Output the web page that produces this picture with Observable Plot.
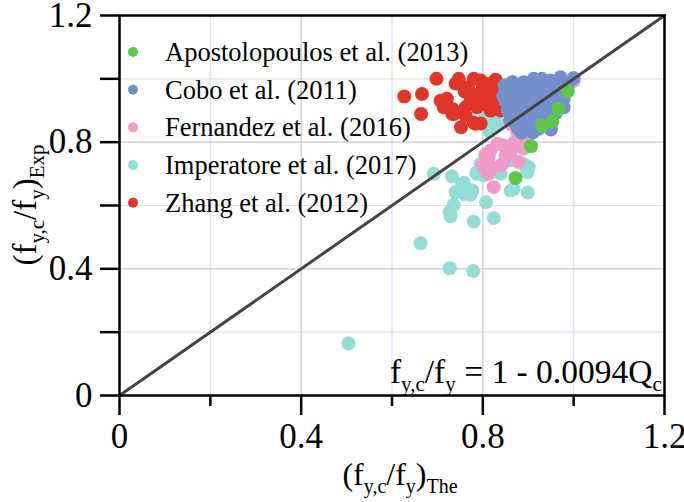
<!DOCTYPE html>
<html>
<head>
<meta charset="utf-8">
<script src="https://cdn.jsdelivr.net/npm/d3@7"></script>
<script src="https://cdn.jsdelivr.net/npm/@observablehq/plot@0.6"></script>
<style>
  html, body { margin: 0; padding: 0; background: #fff; }
  #chart svg { display: block; }
</style>
</head>
<body>
<div id="chart"></div>
<script>
// Series names and colours, in legend order
const seriesNames = [
  "Apostolopoulos et al. (2013)",
  "Cobo et al. (2011)",
  "Fernandez et al. (2016)",
  "Imperatore et al. (2017)",
  "Zhang et al. (2012)"
];
const seriesColors = ["#5ec648", "#7390cc", "#f09cc8", "#93ddd6", "#e2352a"];

// [theoretical, experimental] pairs of f_y,c / f_y
const apostolopoulos = [
  [0.872, 0.687], [0.906, 0.787], [0.987, 0.961], [0.953, 0.865], [0.966, 0.905], [0.930, 0.852]
];
const cobo = [
  [0.868, 0.974], [0.890, 0.989], [0.912, 1.000], [0.930, 1.000], [0.949, 0.995], [0.971, 1.005],
  [1.000, 1.003], [0.868, 0.931], [0.861, 0.895], [0.883, 0.868], [0.898, 0.847], [0.923, 0.842],
  [0.938, 0.858], [0.978, 0.910], [0.978, 0.937], [0.964, 0.963], [0.905, 0.952], [0.927, 0.921],
  [0.941, 0.900], [0.905, 0.900], [0.876, 0.847], [0.912, 0.868], [0.850, 0.960], [0.850, 0.930],
  [0.855, 0.900], [0.860, 0.870], [0.875, 0.950], [0.890, 0.960], [0.890, 0.930], [0.900, 0.980],
  [0.920, 0.970], [0.940, 0.980], [0.950, 0.960], [0.960, 0.940], [0.955, 0.920], [0.930, 0.950],
  [0.915, 0.940], [0.880, 0.910], [0.900, 0.880], [0.920, 0.890], [0.945, 0.875], [0.960, 0.890],
  [0.870, 0.890], [0.885, 0.830], [0.910, 0.830], [0.960, 0.990], [0.980, 0.970], [0.990, 0.990],
  [0.865, 0.990], [0.848, 0.980], [0.845, 0.945], [0.930, 0.975], [0.970, 0.975], [0.940, 0.930],
  [0.900, 0.910], [0.935, 0.900], [0.875, 0.865], [0.950, 0.840]
];
const fernandez = [
  [0.824, 0.658], [0.810, 0.705], [0.799, 0.726], [0.813, 0.752], [0.832, 0.795], [0.817, 0.774],
  [0.843, 0.731], [0.861, 0.768], [0.879, 0.737], [0.883, 0.821], [0.894, 0.805], [0.876, 0.858],
  [0.861, 0.858], [0.813, 0.700], [0.839, 0.726], [1.000, 0.993], [0.876, 0.831], [0.845, 0.790],
  [0.870, 0.800], [0.850, 0.755], [0.820, 0.720], [0.805, 0.760], [0.890, 0.780], [0.990, 0.985]
];
const imperatore = [
  [0.504, 0.164], [0.663, 0.481], [0.727, 0.402], [0.779, 0.393], [0.729, 0.566], [0.727, 0.580],
  [0.736, 0.602], [0.780, 0.549], [0.824, 0.560], [0.807, 0.610], [0.743, 0.641], [0.758, 0.636],
  [0.773, 0.634], [0.765, 0.652], [0.754, 0.664], [0.732, 0.692], [0.692, 0.700], [0.758, 0.672],
  [0.786, 0.700], [0.802, 0.695], [0.839, 0.700], [0.868, 0.653], [0.899, 0.641], [0.901, 0.721],
  [0.890, 0.731], [0.898, 0.705], [0.828, 0.858], [0.815, 0.834], [0.806, 0.878], [0.787, 0.705],
  [0.806, 0.742], [0.861, 0.647], [0.777, 0.647], [0.740, 0.642], [0.817, 0.863], [0.832, 0.863],
  [0.861, 0.742], [0.795, 0.732]
];
const zhang = [
  [0.627, 0.944], [0.666, 0.952], [0.664, 0.889], [0.698, 1.000], [0.747, 1.000], [0.780, 1.000],
  [0.767, 0.974], [0.740, 0.985], [0.707, 0.931], [0.721, 0.937], [0.733, 0.905], [0.714, 0.910],
  [0.733, 0.889], [0.762, 0.910], [0.762, 0.884], [0.752, 0.847], [0.780, 0.861], [0.787, 0.910],
  [0.795, 0.937], [0.802, 0.958], [0.817, 0.968], [0.824, 0.937], [0.828, 0.997], [0.795, 0.995],
  [0.773, 0.931], [0.839, 0.979], [0.817, 0.900], [0.810, 0.984], [0.828, 0.989], [0.839, 0.942],
  [0.817, 0.921], [0.839, 0.900], [0.802, 0.942], [0.795, 0.859], [0.784, 0.858], [0.736, 0.889],
  [0.810, 0.960], [0.830, 0.960], [0.800, 0.920], [0.780, 0.950], [0.760, 0.960], [0.800, 0.975]
];

// Axis ticks
const majorTicks = [0, 0.4, 0.8, 1.2];
const minorTicks = [0.2, 0.6, 1.0];
const tickLabel = d => d === 0 ? "0" : d.toFixed(1);

const FONT = "'Liberation Serif', 'Times New Roman', serif";
const dotR = 7;
const series = [imperatore, fernandez, zhang, cobo, apostolopoulos];
const seriesIdx = [3, 2, 4, 1, 0];

const chart = Plot.plot({
  width: 684,
  height: 502,
  marginLeft: 119,
  marginRight: 20,
  marginTop: 15,
  marginBottom: 107,
  style: { fontFamily: FONT, background: "#fff", color: "#000" },
  x: { domain: [0, 1.2] },
  y: { domain: [0, 1.2] },
  marks: [
    Plot.gridX(minorTicks, { stroke: "#dcdcf4", strokeOpacity: 1, strokeWidth: 1.2 }),
    Plot.gridY(minorTicks, { stroke: "#dcdcf4", strokeOpacity: 1, strokeWidth: 1.2 }),
    Plot.gridX([0.4, 0.8], { stroke: "#c8c8c8", strokeOpacity: 1, strokeWidth: 1.2 }),
    Plot.gridY([0.4, 0.8], { stroke: "#c8c8c8", strokeOpacity: 1, strokeWidth: 1.2 }),
    ...series.map((s, i) => Plot.dot(s, {
      x: d => d[0], y: d => d[1], r: dotR,
      fill: seriesColors[seriesIdx[i]], stroke: "none"
    })),
    Plot.line([[0, 0], [1.2, 1.2]], { stroke: "#444", strokeWidth: 3 }),
    Plot.frame({ stroke: "#000", strokeWidth: 2.5 }),
    Plot.axisX(majorTicks, {
      tickSize: 20, tickPadding: 8, fontSize: 35, tickFormat: tickLabel,
      label: null, strokeWidth: 2.5, stroke: "#000"
    }),
    Plot.axisX(minorTicks, {
      tickSize: 11, tickFormat: () => "", label: null, strokeWidth: 2.5, stroke: "#000"
    }),
    Plot.axisY(majorTicks, {
      tickSize: 19, tickPadding: 8, fontSize: 35, tickFormat: tickLabel,
      label: null, strokeWidth: 2.5, stroke: "#000"
    }),
    Plot.axisY(minorTicks, {
      tickSize: 19, tickFormat: () => "", label: null, strokeWidth: 2.5, stroke: "#000"
    })
  ]
});

document.getElementById("chart").appendChild(chart);

const svg = d3.select(chart);
const sx = chart.scale("x");
const sy = chart.scale("y");

// Text with a subscript run: parts = [[text, isSub], ...]
function richText(g, parts, size, subSize, shift) {
  const t = g.append("text")
    .attr("font-family", FONT)
    .attr("font-size", size)
    .attr("fill", "#000");
  parts.forEach(([txt, sub], i) => {
    const prevSub = i > 0 && parts[i - 1][1];
    const ts = t.append("tspan").text(txt);
    if (sub) ts.attr("font-size", subSize);
    const dy = (sub && !prevSub) ? shift : (!sub && prevSub) ? -shift : 0;
    if (dy) ts.attr("dy", dy);
  });
  return t;
}

// X axis title
richText(svg.append("g"), [["(f", false], ["y,c", true], ["/f", false], ["y", true], [")", false], ["The", true]], 32, 20, 8)
  .attr("x", 400)
  .attr("y", 485)
  .attr("text-anchor", "middle");

// Y axis title
richText(svg.append("g"), [["(f", false], ["y,c", true], ["/f", false], ["y", true], [")", false], ["Exp", true]], 33, 21, 8)
  .attr("text-anchor", "middle")
  .attr("transform", `translate(36,205) rotate(-90)`);

// Fitted relation
richText(svg.append("g"), [["f", false], ["y,c", true], ["/f", false], ["y", true], [" = 1 - 0.0094Q", false], ["c", true]], 33.5, 21, 8)
  .attr("text-anchor", "end")
  .attr("x", sx.apply(1.195))
  .attr("y", sy.apply(0.038));

// Legend
const lg = svg.append("g").attr("text-anchor", "start");
seriesNames.forEach((name, i) => {
  const cy = 52 + i * 37.7;
  lg.append("circle").attr("cx", 133).attr("cy", cy).attr("r", 5).attr("fill", seriesColors[i]);
  lg.append("text")
    .attr("x", 165).attr("y", cy + 9)
    .attr("text-anchor", "start")
    .attr("font-family", FONT).attr("font-size", 26.5).attr("fill", "#000")
    .text(name);
});
</script>
</body>
</html>
